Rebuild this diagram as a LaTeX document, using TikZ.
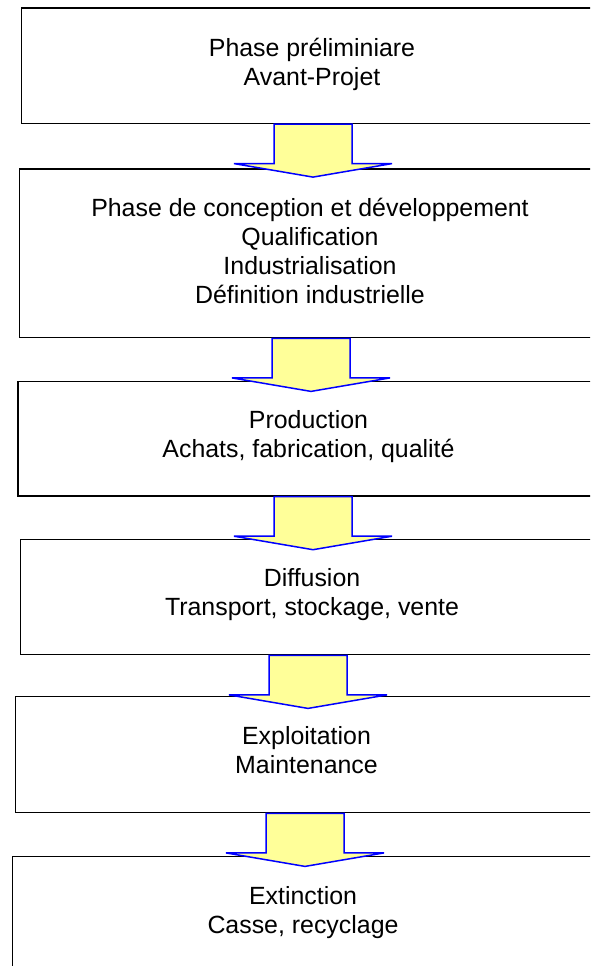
\documentclass[tikz,border=0pt]{standalone}
\usepackage{fontspec}
\setmainfont{Liberation Sans}
\definecolor{arrowfill}{RGB}{255,255,153}
\definecolor{arrowline}{RGB}{0,0,255}
\tikzset{
  phasebox/.style={draw=black, line width=1.4pt, rectangle, inner sep=0pt, anchor=north west},
  phasetext/.style={anchor=base, align=center, inner sep=0pt, text=black,
    font={\fontsize{24.9}{28.7}\selectfont}},
  blockarrow/.pic={
    \draw[draw=arrowline, fill=arrowfill, line width=1.5pt, line join=miter]
      (-39,0) -- (39,0) -- (39,39.5) -- (79,39.5) -- (0,53) -- (-79,39.5) -- (-39,39.5) -- cycle;
  }
}
\begin{document}
\begin{tikzpicture}[x=1pt, y=-1pt]
\useasboundingbox (0,0) rectangle (590,966);
\clip (0,0) rectangle (590,966);
% boxes
\node[phasebox, minimum width=582pt, minimum height=115.4pt] (b1) at (20.7,7.3) {};
\node[phasebox, minimum width=582pt, minimum height=168.7pt] (b2) at (19,168.3) {};
\node[phasebox, minimum width=582pt, minimum height=114.6pt] (b3) at (17.3,380.7) {};
\node[phasebox, minimum width=582pt, minimum height=115.3pt] (b4) at (20,538.7) {};
\node[phasebox, minimum width=582pt, minimum height=116pt] (b5) at (15,696) {};
\node[phasebox, minimum width=582pt, minimum height=150pt] (b6) at (11.7,856) {};
% texts (base anchor = baseline of the last line)
\node[phasetext] (t1) at (312,85) {Phase préliminiare\\Avant-Projet};
\node[phasetext] (t2) at (310,303) {Phase de conception et développement\\Qualification\\Industrialisation\\Définition industrielle};
\node[phasetext] (t3) at (308.5,457) {Production\\Achats, fabrication, qualité};
\node[phasetext] (t4) at (312,615) {Diffusion\\Transport, stockage, vente};
\node[phasetext] (t5) at (306.5,773) {Exploitation\\Maintenance};
\node[phasetext] (t6) at (303,933) {Extinction\\Casse, recyclage};
% block arrows between phases
\path (b1.south west) ++(292.3,0) coordinate (a1);
\path (b2.south west) ++(292,0) coordinate (a2);
\path (b3.south west) ++(295.7,0) coordinate (a3);
\path (b4.south west) ++(288,0) coordinate (a4);
\path (b5.south west) ++(290,0) coordinate (a5);
\pic at (a1) {blockarrow};
\pic at (a2) {blockarrow};
\pic at (a3) {blockarrow};
\pic at (a4) {blockarrow};
\pic at (a5) {blockarrow};
\end{tikzpicture}
\end{document}
